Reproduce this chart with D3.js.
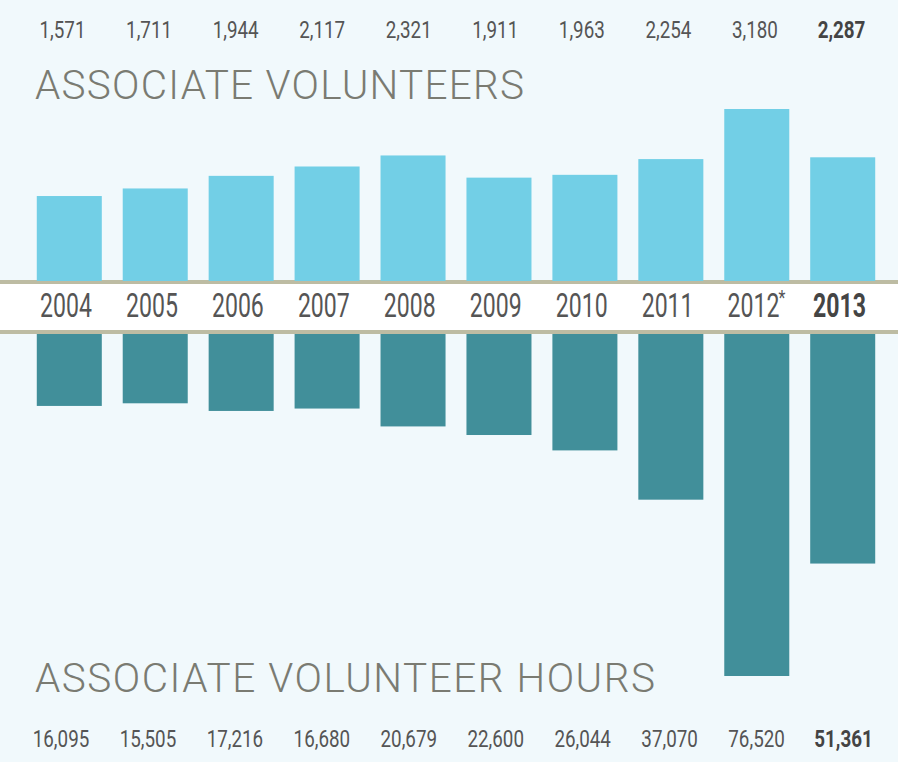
<!DOCTYPE html>
<html><head><meta charset="utf-8">
<script src="https://cdn.jsdelivr.net/npm/d3@7"></script>
<style>
html,body{margin:0;padding:0;background:#f1f9fc;}
svg{display:block;}
</style></head>
<body>
<svg id="chart" width="898" height="762"></svg>
<script>
const years = ["2004","2005","2006","2007","2008","2009","2010","2011","2012","2013"];
const yearNotes = ["","","","","","","","","*",""];
const volunteers = [1571,1711,1944,2117,2321,1911,1963,2254,3180,2287];
const hours = [16095,15505,17216,16680,20679,22600,26044,37070,76520,51361];
const topTitle = "ASSOCIATE VOLUNTEERS";
const bottomTitle = "ASSOCIATE VOLUNTEER HOURS";

const W = 898, H = 762;
const svg = d3.select("#chart");
const font = "Roboto,'Liberation Sans',sans-serif";
const fmt = d3.format(",");
const last = years.length - 1;

svg.append("rect").attr("width",W).attr("height",H).attr("fill","#f1f9fc");

const x = d3.scaleBand().domain(years).range([15.3, 896.7]).paddingInner(0.2434).paddingOuter(0.25);
const xTopNum = d3.scalePoint().domain(years).range([62.5, 841.5]);
const xBotNum = d3.scalePoint().domain(years).range([61, 843.5]);
const xYear = d3.scalePoint().domain(years).range([66, 839.5]);
const yTop = d3.scaleLinear().domain([0,3180]).range([281,109]);
const yBot = d3.scaleLinear().domain([0,76520]).range([334,676]);

// band
svg.append("rect").attr("x",0).attr("y",281).attr("width",W).attr("height",52).attr("fill","#ffffff");
[[280,284],[330,334]].forEach(([a,b])=>{
  svg.append("rect").attr("x",0).attr("y",a).attr("width",W).attr("height",b-a).attr("fill","#bdbca3");
});

// upper bars
svg.append("g").selectAll("rect").data(years).join("rect")
  .attr("x",d=>x(d)).attr("width",x.bandwidth())
  .attr("y",(d,i)=>yTop(volunteers[i])).attr("height",(d,i)=>yTop(0)-yTop(volunteers[i]))
  .attr("fill","#72cfe6");

// lower bars
svg.append("g").selectAll("rect").data(years).join("rect")
  .attr("x",d=>x(d)).attr("width",x.bandwidth())
  .attr("y",yBot(0)).attr("height",(d,i)=>yBot(hours[i])-yBot(0))
  .attr("fill","#418f9a");

function numRow(data, xs, yPos){
  svg.append("g").selectAll("text").data(data).join("text")
    .attr("transform",(d,i)=>`translate(${xs(years[i])},${yPos}) scale(0.8,1)`)
    .attr("text-anchor","middle").attr("font-family",font).attr("font-size",23.5)
    .attr("font-weight",(d,i)=>i===last?"bold":"normal")
    .attr("fill",(d,i)=>i===last?"#444444":"#555555")
    .text(d=>fmt(d));
}
numRow(volunteers, xTopNum, 38);
numRow(hours, xBotNum, 747);

// years
svg.append("g").selectAll("text").data(years).join("text")
  .attr("transform",d=>`translate(${xYear(d)},317) scale(0.7,1)`)
  .attr("text-anchor","middle").attr("font-family",font).attr("font-size",33)
  .attr("font-weight",(d,i)=>i===last?"bold":"normal")
  .attr("fill",(d,i)=>i===last?"#444444":"#555555")
  .text(d=>d);
svg.append("g").selectAll("text").data(years.filter((d,i)=>yearNotes[i])).join("text")
  .attr("transform",d=>`translate(${xYear(d)+25},305) scale(0.8,1)`)
  .attr("font-family",font).attr("font-size",20).attr("fill","#555555")
  .text(d=>yearNotes[years.indexOf(d)]);

// titles
svg.append("text").attr("x",35).attr("y",99).attr("font-family",font).attr("font-size",40.5)
  .attr("font-weight",300)
  .attr("fill","#7a7b72").attr("textLength",489).attr("lengthAdjust","spacing").text(topTitle);
svg.append("text").attr("x",35).attr("y",692).attr("font-family",font).attr("font-size",40.5)
  .attr("font-weight",300)
  .attr("fill","#7a7b72").attr("textLength",620).attr("lengthAdjust","spacing").text(bottomTitle);
</script>
</body></html>
